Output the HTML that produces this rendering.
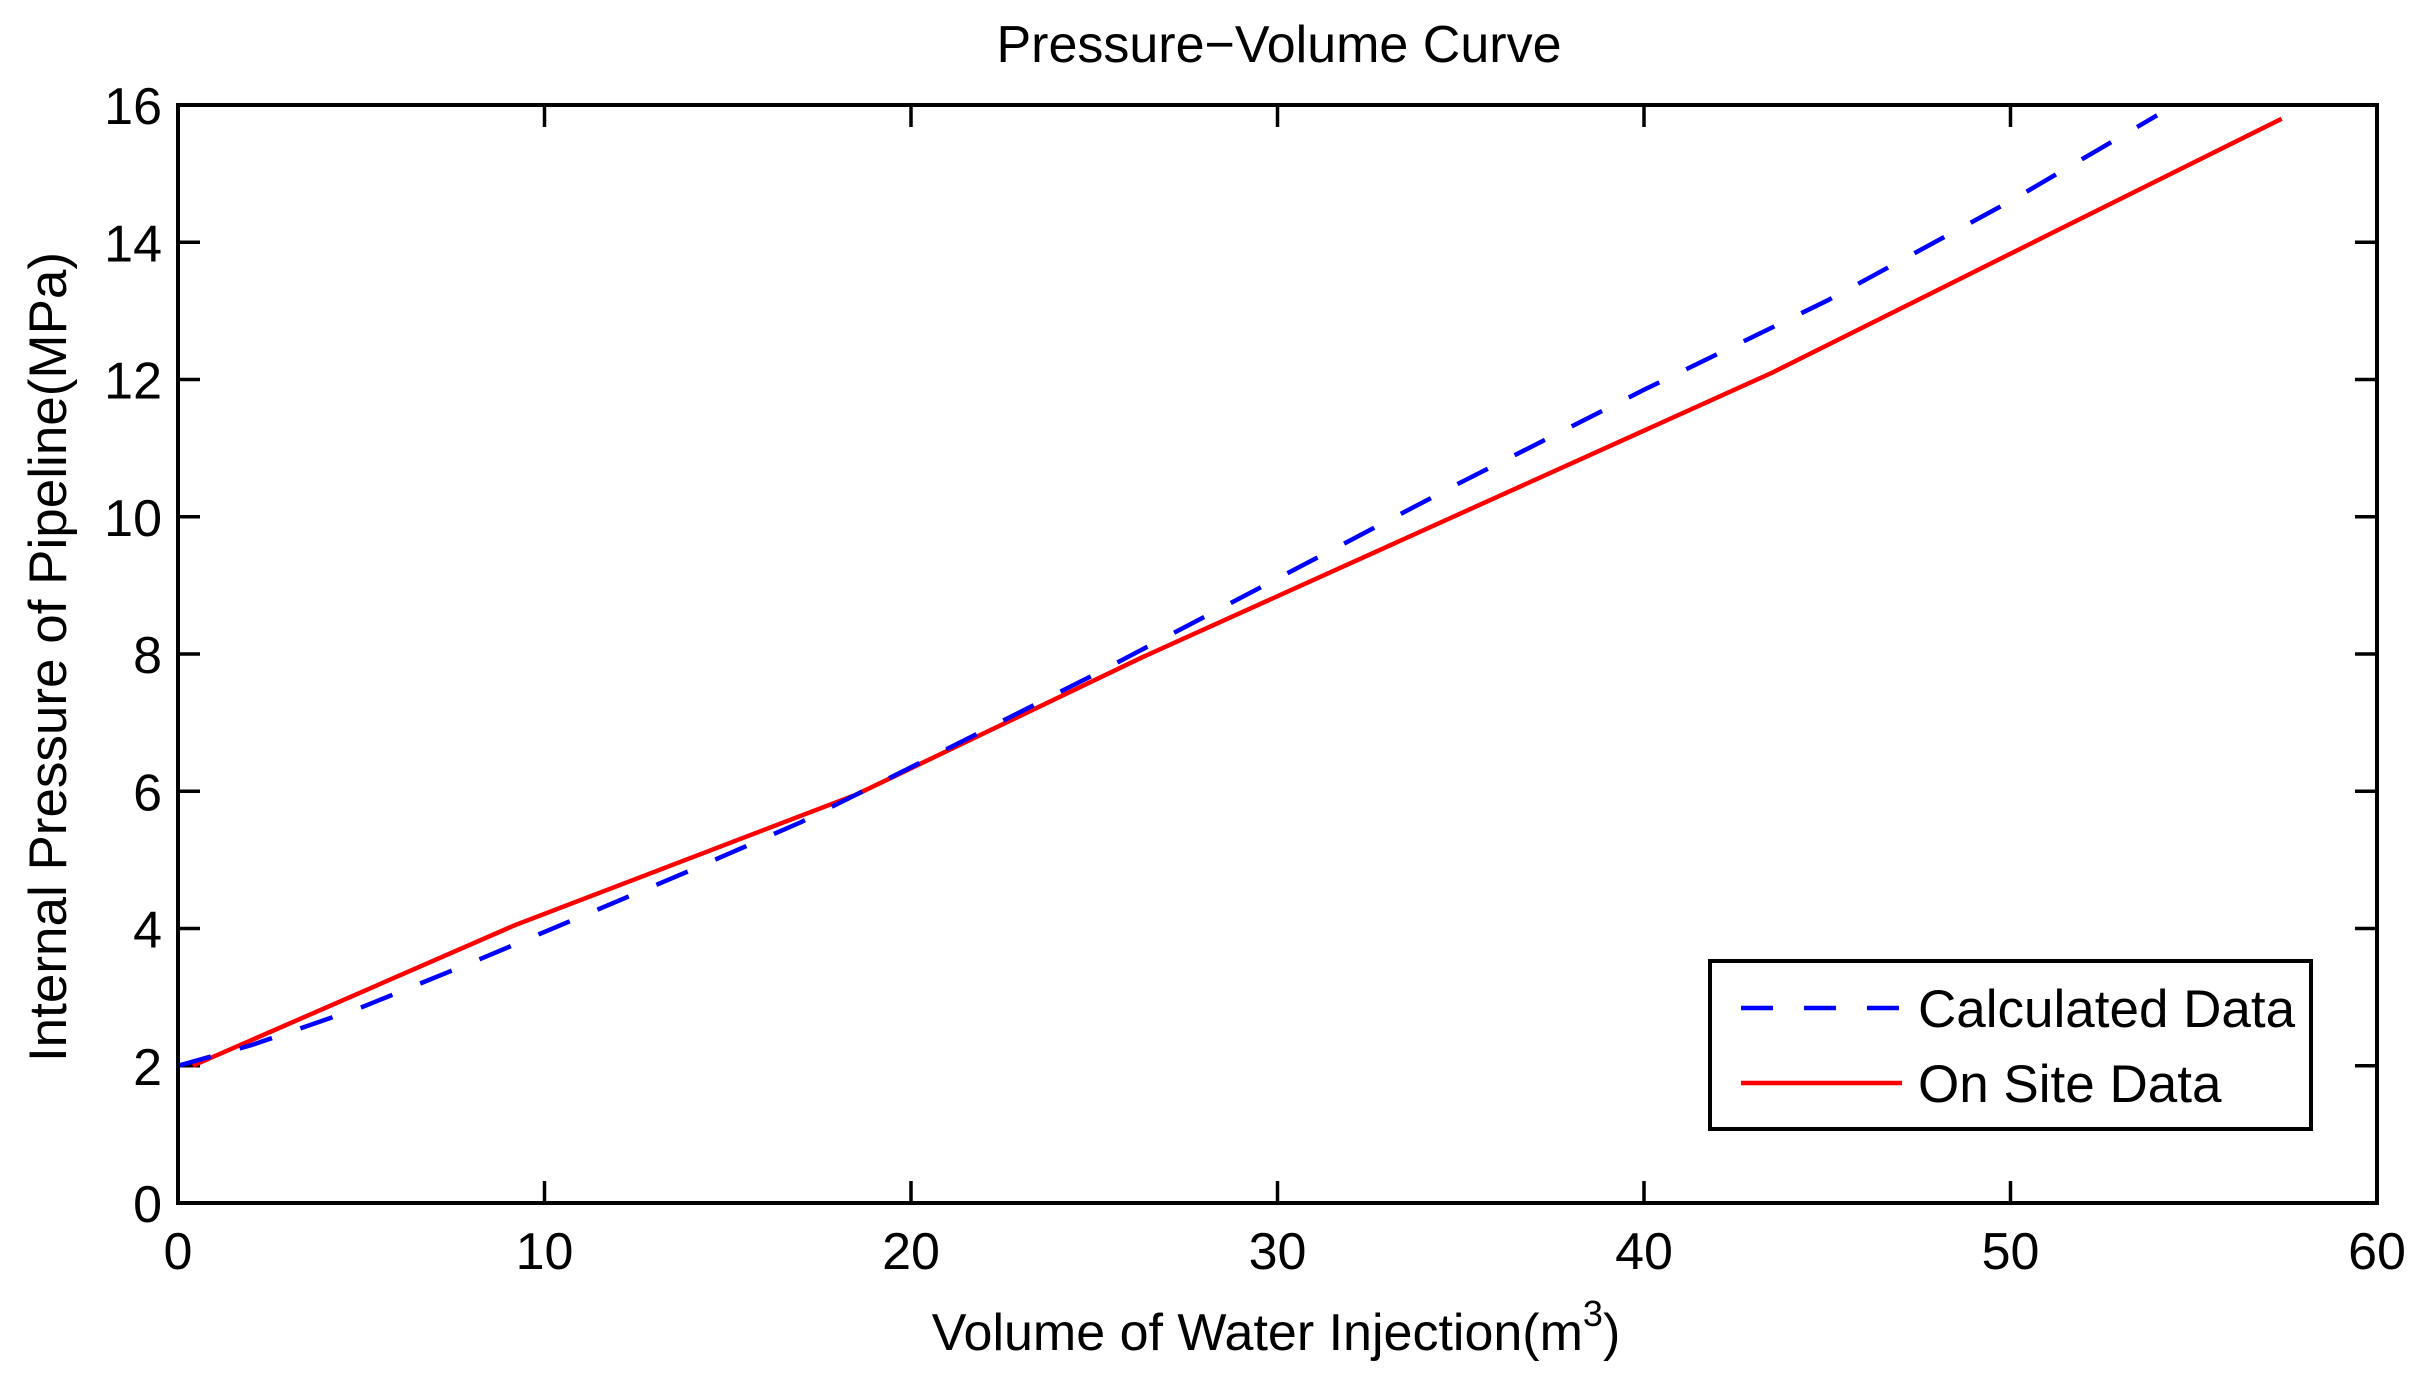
<!DOCTYPE html>
<html><head><meta charset="utf-8"><style>
html,body{margin:0;padding:0;background:#fff;}
svg{display:block;font-family:"Liberation Sans",sans-serif;}
</style></head><body>
<svg id="chart" width="2422" height="1382" viewBox="0 0 2422 1382" xmlns="http://www.w3.org/2000/svg">
<rect width="2422" height="1382" fill="#fff"/>
<text x="1279" y="62" font-size="52" text-anchor="middle">Pressure−Volume Curve</text>
<g id="ticks"></g>
<g id="series"></g>
<rect x="178" y="105" width="2199" height="1098" fill="none" stroke="#000" stroke-width="4"/>
<text x="1276" y="1350" font-size="52" text-anchor="middle">Volume of Water Injection(m<tspan dy="-24" font-size="36">3</tspan><tspan dy="24">)</tspan></text>
<text transform="translate(66,657) rotate(-90)" font-size="53" text-anchor="middle">Internal Pressure of Pipeline(MPa)</text>
<g>
<rect x="1710" y="961" width="601" height="168" fill="#fff" stroke="#000" stroke-width="4"/>
<line x1="1741" y1="1008" x2="1902" y2="1008" stroke="#0000ff" stroke-width="4.5" stroke-dasharray="32,31"/>
<text x="1918" y="1027" font-size="53">Calculated Data</text>
<line x1="1741" y1="1083" x2="1902" y2="1083" stroke="#ff0000" stroke-width="4.5"/>
<text x="1918" y="1102" font-size="53">On Site Data</text>
</g>
</svg>
<script>
const xTicks = [0,10,20,30,40,50,60];
const yTicks = [0,2,4,6,8,10,12,14,16];
const calcX = [0,2,5,8,10,14,17,20,25,30,35,40,45,50,54];
const calcY = [2,2.3,2.85,3.5,3.95,4.85,5.55,6.35,7.7,9.1,10.5,11.85,13.15,14.6,15.85];
const siteX = [0.4,9.2,18.5,26.3,43.5,51,57.4];
const siteY = [2,4.05,5.95,7.95,12.1,14.1,15.8];
const L=178,R=2377,T=105,B=1203;
const sx=v=>L+(v-0)/(60-0)*(R-L);
const sy=v=>B-(v-0)/(16-0)*(B-T);
const NS="http://www.w3.org/2000/svg";
const tg=document.getElementById('ticks');
function mk(tag,attrs,parent){const e=document.createElementNS(NS,tag);for(const k in attrs)e.setAttribute(k,attrs[k]);parent.appendChild(e);return e;}
xTicks.forEach(v=>{
  const x=sx(v);
  let l=mk('line',{x1:x,y1:B,x2:x,y2:B-22,stroke:'#000','stroke-width':3.5},tg);
  
  
  let l2=mk('line',{x1:x,y1:T,x2:x,y2:T+22,stroke:'#000','stroke-width':3.5},tg);
  
  
  let t=mk('text',{x:x,y:B+66,'font-size':52,'text-anchor':'middle'},tg);
  t.textContent=v;
  
  
});
yTicks.forEach(v=>{
  const y=sy(v);
  let l=mk('line',{x1:L,y1:y,x2:L+22,y2:y,stroke:'#000','stroke-width':3.5},tg);
  
  
  let l2=mk('line',{x1:R,y1:y,x2:R-22,y2:y,stroke:'#000','stroke-width':3.5},tg);
  
  
  let t=mk('text',{x:L-16,y:y+19,'font-size':52,'text-anchor':'end'},tg);
  t.textContent=v;
  
  
});
const sg=document.getElementById('series');
function pts(xs,ys){return xs.map((x,i)=>sx(x)+','+sy(ys[i])).join(' ');}
let p1=mk('polyline',{points:pts(siteX,siteY),fill:'none',stroke:'#ff0000','stroke-width':4.5},sg);


let p2=mk('polyline',{points:pts(calcX,calcY),fill:'none',stroke:'#0000ff','stroke-width':4.5,'stroke-dasharray':'34,30'},sg);


</script>
</body></html>
